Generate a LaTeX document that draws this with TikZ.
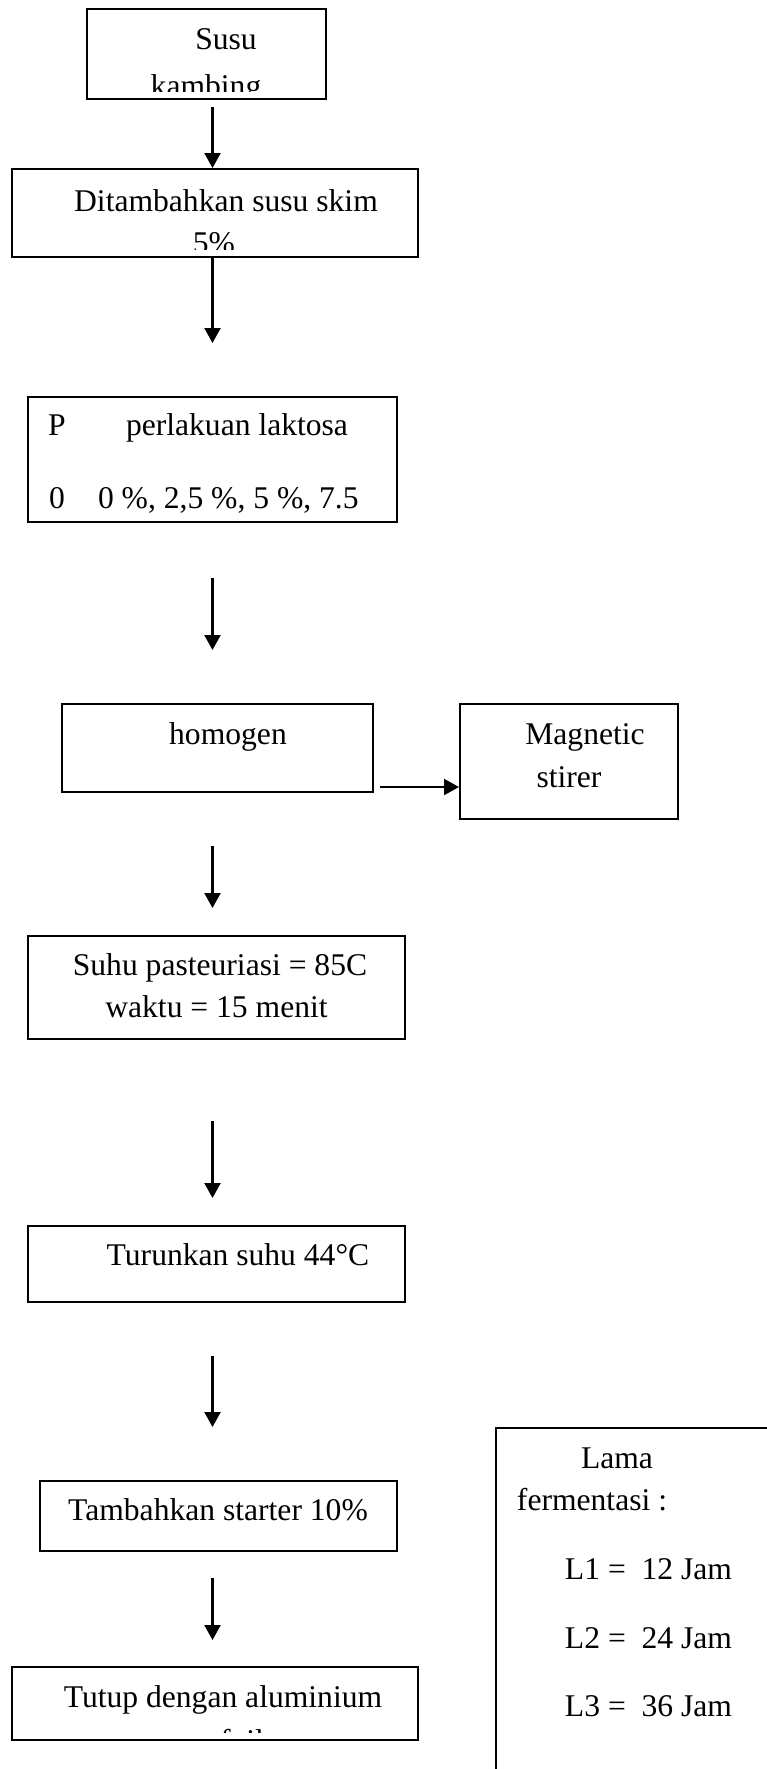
\documentclass[tikz,border=0pt]{standalone}
\usepackage{fontspec}
\setmainfont{Liberation Serif}
\usetikzlibrary{arrows.meta}

\begin{document}
\begin{tikzpicture}[x=1pt,y=-1pt,line width=2pt,
  >={Triangle[length=15pt,width=16pt]},
  box/.style={draw,inner sep=0pt},
  txt/.style={inner sep=0pt,anchor=base,font=\fontsize{31.6pt}{42pt}\selectfont},
  flow/.style={->,line width=2.2pt}]
  \useasboundingbox (0,0) rectangle (766,1769);
  \coordinate (axis) at (212.5,0);

  % Susu kambing
  \node[box,minimum width=239pt,minimum height=90pt] (susu) at (206.5,54) {};
  \begin{scope}
    \clip (susu.north west) rectangle ([yshift=9pt]susu.south east);
    \node[txt] (susuA) at (226,50) {Susu};
    \node[txt] (susuB) at (206,96) {kambing};
  \end{scope}

  % susu skim
  \node[box,minimum width=406pt,minimum height=88pt] (skim) at (215,213) {};
  \begin{scope}
    \clip (skim.north west) rectangle ([yshift=9pt]skim.south east);
    \node[txt] (skimA) at (226,211) {Ditambahkan susu skim};
    \node[txt] (skimB) at (214,253) {5\%};
  \end{scope}
  \draw[flow,shorten <=7pt] (susu.south -| axis) -- (skim.north -| axis);
  \draw[flow] (skim.south -| axis) -- (axis |- 0,343);

  % perlakuan
  \node[box,minimum width=369pt,minimum height=125pt] (perl) at (212.5,459.5) {};
  \node[txt,anchor=base west] (perlP) at (47,435) {P};
  \node[txt,anchor=base west] (perlA) at (125,435) {perlakuan laktosa};
  \node[txt,anchor=base west] (perlN) at (48,508) {0};
  \node[txt,anchor=base west] (perlB) at (97,508) {0 \%, 2,5 \%, 5 \%, 7.5};

  % homogen + stirer
  \node[box,minimum width=311pt,minimum height=88pt] (homog) at (217,748) {};
  \node[txt] (homogA) at (228,744) {homogen};
  \node[box,minimum width=218pt,minimum height=115pt] (magn) at (569,761.5) {};
  \node[txt] (magnA) at (585,744) {Magnetic};
  \node[txt] (magnB) at (569,787) {stirer};
  \draw[flow,shorten <=6pt] ([yshift=6pt]homog.south east)
        -- ([yshift=6pt]homog.south east -| magn.west);

  % pasteurisasi
  \node[box,minimum width=377pt,minimum height=103pt] (suhu) at (216.5,987.5) {};
  \node[txt] (suhuA) at (220,975) {Suhu pasteuriasi = 85C};
  \node[txt] (suhuB) at (216.5,1017) {waktu = 15 menit};

  \node[box,minimum width=377pt,minimum height=76pt] (turun) at (216.5,1264) {};
  \node[txt] (turunA) at (238,1265) {Turunkan suhu 44°C};

  \node[box,minimum width=357pt,minimum height=70pt] (tamb) at (218.5,1516) {};
  \node[txt] (tambA) at (218,1520) {Tambahkan starter 10\%};

  % tutup
  \node[box,minimum width=406pt,minimum height=73pt] (tutup) at (215,1703.5) {};
  \begin{scope}
    \clip (tutup.north west) rectangle ([yshift=9pt]tutup.south east);
    \node[txt] (tutupA) at (223,1707) {Tutup dengan aluminium};
    \node[txt] (tutupB) at (242,1751) {foil};
  \end{scope}

  \foreach \src/\gap/\yy in {perl/55/650,homog/53/908,suhu/81/1198,turun/53/1427,tamb/26/1640}
    \draw[flow,shorten <=\gap pt] (\src.south -| axis) -- (axis |- 0,\yy);

  % lama fermentasi
  \node[box,anchor=north west,minimum width=330pt,minimum height=400pt] (lama) at (495,1427) {};
  \node[txt] (lamaA) at (617,1468) {Lama};
  \node[txt] (lamaB) at (592,1510) {fermentasi :};
  \foreach \n/\jam/\yy in {1/12/1579,2/24/1648,3/36/1716}
    \node[txt] (lama\n) at (648.5,\yy) {L\n{} = \ \jam{} Jam};
\end{tikzpicture}
\end{document}
